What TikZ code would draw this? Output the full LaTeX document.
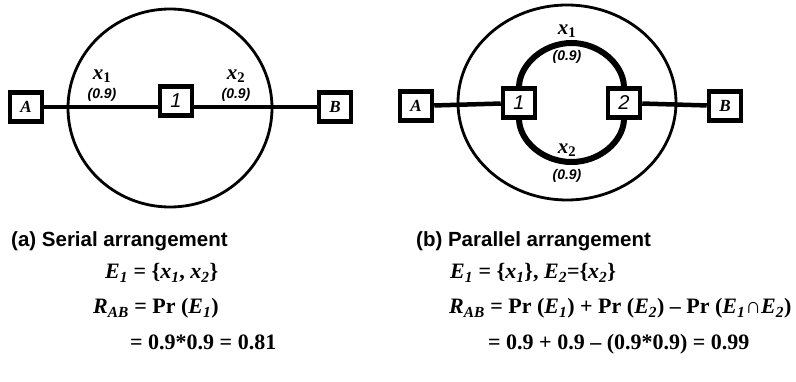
\documentclass[tikz,border=0pt]{standalone}
\usepackage{fontspec}
\setmainfont{Liberation Serif}
\setsansfont{Liberation Sans}
\usepackage{tikz}
\usetikzlibrary{positioning}
\newcommand{\bv}[2]{\textit{#1}\textsubscript{\textit{#2}}}

\begin{document}
\begin{tikzpicture}[x=1pt, y=-1pt,
  blk/.style={draw, line width=4.5pt, fill=white, minimum width=32pt, minimum height=29pt, inner sep=0pt},
  lettr/.style={font=\bfseries\itshape\fontsize{17}{17}\selectfont},
  digt/.style={font=\sffamily\itshape\fontsize{20}{20}\selectfont},
  wire/.style={line width=4.5pt},
  ring/.style={line width=2.8pt},
  loopw/.style={line width=6pt},
  prob/.style={font=\sffamily\bfseries\itshape\fontsize{14}{14}\selectfont, inner sep=0pt},
  var/.style={font=\bfseries\fontsize{21}{21}\selectfont, inner sep=0pt},
  eqn/.style={anchor=base west, font=\bfseries\fontsize{22}{22}\selectfont, inner sep=0pt},
  captxt/.style={anchor=base west, font=\sffamily\bfseries\fontsize{20.5}{20.5}\selectfont, inner sep=0pt}]
\useasboundingbox (0,0) rectangle (796,382);
% (a) serial arrangement
\draw[ring] (170,108) ellipse [x radius=102pt, y radius=99pt];
\node[blk, lettr] (A1) at (26,107) {A};
\node[blk, digt] (S1) at (176,101) {1};
\node[blk, lettr] (B1) at (335,107) {B};
\draw[wire] (A1.east) -- (A1.east -| S1.west);
\draw[wire] (S1.east |- B1) -- (B1.west);
\node[var] (x11) at (102,76) {\textit{x}\textsubscript{1}};
\node[prob] (p11) at (102,95) {(0.9)};
\node[var] (x12) at (236,76) {\textit{x}\textsubscript{2}};
\node[prob] (p12) at (236,95) {(0.9)};
% (b) parallel arrangement
\draw[ring] (567,102.5) ellipse [x radius=109pt, y radius=97.5pt];
\node[blk, lettr] (A2) at (416,106) {A};
\node[blk, digt] (S21) at (519,103) {1};
\node[blk, digt] (S22) at (624,103) {2};
\node[blk, lettr] (B2) at (725,106) {B};
\coordinate (top) at (571.5,43);
\coordinate (bot) at (571.5,162);
\draw[loopw] (S21.north) .. controls +(1,-22) and +(-28,0) .. (top)
  .. controls +(28,0) and +(-1,-22) .. (S22.north);
\draw[loopw] (S21.south) .. controls +(1,22) and +(-28,0) .. (bot)
  .. controls +(28,0) and +(-1,22) .. (S22.south);
\draw[wire] (A2) -- (S21);
\draw[wire] (S22) -- (B2);
\node[var] (x21) at (567,31) {\textit{x}\textsubscript{1}};
\node[prob] (p21) at (567,57) {(0.9)};
\node[var] (x22) at (567,150) {\textit{x}\textsubscript{2}};
\node[prob] (p22) at (567,176) {(0.9)};
% captions and equations
\node[captxt] (capa) at (11,247) {(a) Serial arrangement};
\node[eqn] (ea1) at (105,279) {\bv{E}{1} = \{\bv{x}{1}, \bv{x}{2}\}};
\node[eqn] (ea2) at (93,314) {\bv{R}{AB} = Pr (\bv{E}{1})};
\node[eqn] (ea3) at (130,349) {= 0.9*0.9 = 0.81};
\node[captxt] (capb) at (416,247) {(b) Parallel arrangement};
\node[eqn] (eb1) at (450,279) {\bv{E}{1} = \{\bv{x}{1}\}, \bv{E}{2}=\{\bv{x}{2}\}};
\node[eqn] (eb2) at (449,314) {\bv{R}{AB} = Pr (\bv{E}{1}) + Pr (\bv{E}{2}) – Pr (\bv{E}{1}∩\bv{E}{2})};
\node[eqn] (eb3) at (488,349) {= 0.9 + 0.9 – (0.9*0.9) = 0.99};
\end{tikzpicture}
\end{document}
